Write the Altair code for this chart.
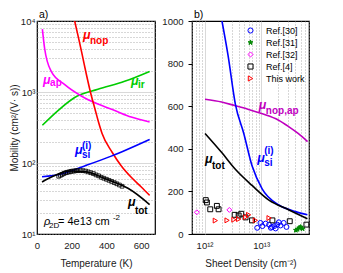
import altair as alt
import pandas as pd

FONT = "Liberation Sans"
RED, MAG, GRN, BLU, PUR, DGRN, BLK = "#ff0000", "#ff00ff", "#00cc00", "#0000ff", "#bf00bf", "#008800", "#000000"

# ---------------- panel a: mobility vs temperature ----------------
nop_T = [217, 239, 261, 285, 311, 334, 354, 375, 432, 486, 543, 601, 649]
nop_mu = [10000, 5840, 3300, 1750, 929, 577, 382, 261, 143, 91, 63, 46, 35]
ap_T = [31, 44, 82, 160, 255, 351, 448, 543, 649]
ap_mu = [7700, 4100, 1950, 1270, 880, 676, 547, 443, 379]
ir_T = [31, 121, 217, 351, 505, 649]
ir_mu = [340, 547, 836, 1090, 1413, 1950]
si_T = [29, 140, 275, 428, 649]
si_mu = [64, 70, 91, 125, 215]
tot_T = [29, 92, 188, 284, 380, 477, 524, 649]
tot_mu = [54, 65, 77, 75, 62, 50, 44, 26]
exp_T = [125, 135, 145, 155, 165, 175, 185, 195, 205, 215, 225, 235, 250, 265, 280,
         295, 310, 325, 340, 355, 370, 385, 400, 415, 430, 445, 460, 475, 490]
exp_mu = [65, 67, 69, 71, 73, 74, 75, 76, 77, 77, 78, 78, 78, 78, 77,
          75, 73, 71, 68, 66, 63, 61, 59, 57, 55, 53, 51, 49, 47]

a_xtick_vals = [0, 200, 400, 600]
a_ytick_vals = [10, 20, 30, 40, 50, 60, 70, 80, 90, 100, 200, 300, 400, 500, 600, 700, 800, 900,
                1000, 2000, 3000, 4000, 5000, 6000, 7000, 8000, 9000, 10000]
a_ytick_major = [10, 100, 1000, 10000]
a_ytick_labels = ["10¹", "10²", "10³", "10⁴"]

# curve labels: "μ" at (x, y); subscripts / superscripts share the x of their μ
a_lab_text = ["μ", "nop", "μ", "ap", "μ", "ir", "μ", "(i)", "si", "μ", "tot"]
a_lab_kind = ["mu", "sub", "mu", "sub", "mu", "sub", "mu", "sub", "sub", "mu", "sub"]
a_lab_x = [265, 265, 35, 35, 541, 541, 219, 219, 219, 524, 524]
a_lab_y = [5650, 4820, 1315, 1197, 1274, 1122, 134, 160, 117, 25.1, 19.4]
a_lab_color = [RED, RED, MAG, MAG, GRN, GRN, BLU, BLU, BLU, BLK, BLK]

rho_text = ["ρ", "2D", "= 4e13 cm", "-2"]
rho_kind = ["greek", "small", "normal", "small"]
rho_dx = [0, 5, 14, 69]
rho_x = [40, 40, 40, 40]
rho_y = [13.5, 12.1, 13.5, 15.8]

# ---------------- panel b: mobility vs sheet density ----------------
nopap_n = [1.02e12, 2e12, 3.5e12, 6e12, 1.05e13, 2e13, 3.1e13, 4.5e13, 6.6e13]
nopap_mu = [633, 620, 602, 585, 564, 535, 503, 472, 434]
sib_n = [2.03e12, 2.6e12, 3.5e12, 4.93e12, 6.9e12, 1.04e13, 2.06e13, 4.06e13, 6.56e13]
sib_mu = [1000, 839, 610, 472, 320, 212, 136, 105, 90]
totb_n = [1.02e12, 2.03e12, 3.5e12, 6.9e12, 1.37e13, 3.1e13, 6.56e13]
totb_mu = [472, 381, 304, 228, 159, 113, 72]

ref30_n = [8.5e12, 9.7e12, 1.05e13, 1.2e13, 1.38e13, 1.48e13, 1.55e13, 1.7e13, 1.8e13,
           1.92e13, 2.05e13, 2.2e13, 2.5e13, 2.8e13]
ref30_mu = [29, 52, 37, 49, 44, 29, 33, 37, 26, 44, 55, 40, 52, 33]
ref31_n = [4.1e13, 4.4e13, 4.7e13, 5.0e13, 5.4e13]
ref31_mu = [18, 22, 29, 33, 25]
ref32_n = [7.3e11, 2.74e12]
ref32_mu = [102, 113]
ref4_n = [1.05e12, 1.1e12, 1.26e12, 1.65e12, 1.77e12, 3.4e12, 4.0e12, 4.45e12, 5.3e12,
          6.9e12, 1.58e13, 3.2e13, 6.3e13]
ref4_mu = [159, 148, 116, 132, 116, 90, 87, 95, 78, 64, 64, 60, 44]
this_n = [1.55e12, 2.5e12, 3.3e12, 4.0e12, 5.3e12, 6.0e12, 7.9e12, 1.38e13]
this_mu = [63, 64, 67, 70, 79, 90, 64, 75]

src_names = ["Ref.[30]", "Ref.[31]", "Ref.[32]", "Ref.[4]", "This work"]
STAR = "M0,-1L0.24,-0.33L0.95,-0.31L0.39,0.12L0.59,0.81L0,0.4L-0.59,0.81L-0.39,0.12L-0.95,-0.31L-0.24,-0.33Z"
src_shapes = ["circle", STAR, "diamond", "square", "triangle-right"]
src_stroke = [BLU, DGRN, MAG, BLK, RED]
src_fill = ["transparent", DGRN, "transparent", "transparent", "transparent"]

b_xtick_vals = [6e11, 7e11, 8e11, 9e11, 1e12, 2e12, 3e12, 4e12, 5e12, 6e12, 7e12, 8e12, 9e12,
                1e13, 2e13, 3e13, 4e13, 5e13, 6e13, 7e13]
b_xtick_major = [1e12, 1e13]
b_xtick_labels = ["10¹²", "10¹³"]
b_ytick_vals = [0, 200, 400, 600, 800, 1000]

b_lab_text = ["μ", "nop,ap", "μ", "tot", "μ", "(i)", "si"]
b_lab_kind = ["mu", "sub", "mu", "sub", "mu", "sub", "sub"]
b_lab_x = [9.1e12, 9.1e12, 1.02e12, 1.02e12, 8.5e12, 8.5e12, 8.5e12]
b_lab_y = [587, 564, 335, 307, 339, 376, 318]
b_lab_color = [PUR, PUR, BLK, BLK, BLU, BLU, BLU]


def label_expr(vals, labels):
    return " : ".join(f"datum.value == {v} ? '{l}'" for v, l in zip(vals, labels)) + " : ''"


def grid_test(vals):
    return " || ".join(f"datum.value == {v}" for v in vals)


# ---- scales / axes ----
xa = alt.X("x:Q", scale=alt.Scale(domain=[0, 680], nice=False, zero=False),
           axis=alt.Axis(values=a_xtick_vals, grid=False, ticks=False, domain=False,
                         labelPadding=6, labelFlush=False, titlePadding=9,
                         title="Temperature (K)"))
ya = alt.Y("y:Q", scale=alt.Scale(type="log", domain=[10, 10000], nice=False),
           axis=alt.Axis(values=a_ytick_vals, labelExpr=label_expr(a_ytick_major, a_ytick_labels),
                         grid=True, ticks=False, domain=False, labelPadding=2, titlePadding=1,
                         labelOverlap=False, labelFlush=False,
                         gridDash={"condition": {"test": grid_test([100, 1000]), "value": []}, "value": [1, 2]},
                         gridColor={"condition": {"test": grid_test([100, 1000]), "value": "#cfcfcf"}, "value": "#9a9a9a"},
                         gridWidth=0.8,
                         title="Mobility (cm²/(V· s))"))

xb = alt.X("x:Q", scale=alt.Scale(type="log", domain=[6e11, 7e13], nice=False),
           axis=alt.Axis(values=b_xtick_vals, labelExpr=label_expr(b_xtick_major, b_xtick_labels),
                         grid=True, ticks=False, domain=False, labelPadding=6, labelFlush=False,
                         labelOverlap=False, titlePadding=9,
                         gridDash={"condition": {"test": grid_test(b_xtick_major), "value": []}, "value": [1, 2]},
                         gridColor={"condition": {"test": grid_test(b_xtick_major), "value": "#cfcfcf"}, "value": "#9a9a9a"},
                         gridWidth=0.8,
                         title="Sheet Density (cm⁻²)"))
yb = alt.Y("y:Q", scale=alt.Scale(domain=[0, 1000], nice=False),
           axis=alt.Axis(values=b_ytick_vals, format="d", grid=False, ticks=True, tickSize=4,
                         tickColor="black", domain=False, labelPadding=5, labelFlush=False,
                         title=None))


def curve(xs, ys, color, xe, ye):
    df = pd.DataFrame({"x": xs, "y": ys})
    return alt.Chart(df).mark_line(color=color, strokeWidth=1.6, clip=True,
                                   interpolate="monotone").encode(x=xe, y=ye)


def label_layers(texts, kinds, xs, ys, colors, xe, ye):
    df = pd.DataFrame({"t": texts, "k": kinds, "x": xs, "y": ys, "c": colors})
    base = alt.Chart(df).encode(x=xe, y=ye, text="t:N", color=alt.Color("c:N", scale=None))
    mu = base.transform_filter("datum.k == 'mu'").mark_text(
        align="left", baseline="alphabetic", font=FONT, fontSize=12.5,
        fontWeight="bold", fontStyle="italic")
    sub = base.transform_filter("datum.k == 'sub'").mark_text(
        align="left", baseline="alphabetic", font=FONT, fontSize=10, fontWeight="bold", dx=7)
    return [mu, sub]


# ---- panel a ----
exp_df = pd.DataFrame({"x": exp_T, "y": exp_mu})
squares = alt.Chart(exp_df).mark_point(shape="square", size=14, strokeWidth=0.8,
                                        color=BLK, opacity=1).encode(x=xa, y=ya)

rho_df = pd.DataFrame({"t": rho_text, "k": rho_kind, "x": rho_x, "y": rho_y, "dx": rho_dx})
rho_layers = []
for i in range(len(rho_text)):
    sub = rho_df.iloc[[i]]
    size = 8 if rho_kind[i] == "small" else 11
    style = "italic" if rho_kind[i] == "greek" else "normal"
    rho_layers.append(
        alt.Chart(sub).mark_text(align="left", baseline="alphabetic", font=FONT, fontSize=size,
                                 fontStyle=style, color=BLK, dx=rho_dx[i])
        .encode(x=xa, y=ya, text="t:N"))

panel_a = alt.layer(
    curve(ir_T, ir_mu, GRN, xa, ya),
    curve(ap_T, ap_mu, MAG, xa, ya),
    curve(nop_T, nop_mu, RED, xa, ya),
    curve(si_T, si_mu, BLU, xa, ya),
    curve(tot_T, tot_mu, BLK, xa, ya),
    squares,
    *label_layers(a_lab_text, a_lab_kind, a_lab_x, a_lab_y, a_lab_color, xa, ya),
    *rho_layers,
).properties(width=118, height=213,
             title=alt.Title("a)", anchor="start", frame="group", offset=-4, dx=2,
                             fontSize=10.5, fontWeight="normal", font=FONT))

# ---- panel b ----
rows = []
for name, ns, ms in zip(src_names, [ref30_n, ref31_n, ref32_n, ref4_n, this_n],
                        [ref30_mu, ref31_mu, ref32_mu, ref4_mu, this_mu]):
    for n, m in zip(ns, ms):
        rows.append({"x": n, "y": m, "src": name})
scatter_df = pd.DataFrame(rows)

leg = alt.Legend(orient="none", legendX=54, legendY=5, title=None, labelFont=FONT,
                 labelFontSize=9, labelColor="black", symbolSize=26, symbolStrokeWidth=1,
                 labelOffset=11, rowPadding=1, padding=0, labelLimit=120)
scatter = alt.Chart(scatter_df).mark_point(strokeWidth=1, opacity=1, size=24).encode(
    x=xb, y=yb,
    shape=alt.Shape("src:N", scale=alt.Scale(domain=src_names, range=src_shapes), legend=leg),
    stroke=alt.Stroke("src:N", scale=alt.Scale(domain=src_names, range=src_stroke), legend=leg),
    fill=alt.Fill("src:N", scale=alt.Scale(domain=src_names, range=src_fill), legend=leg),
)

panel_b = alt.layer(
    curve(nopap_n, nopap_mu, PUR, xb, yb),
    curve(sib_n, sib_mu, BLU, xb, yb),
    curve(totb_n, totb_mu, BLK, xb, yb),
    scatter,
    *label_layers(b_lab_text, b_lab_kind, b_lab_x, b_lab_y, b_lab_color, xb, yb),
).properties(width=117, height=213,
             title=alt.Title("b)", anchor="start", frame="group", offset=-4, dx=2,
                             fontSize=10.5, fontWeight="normal", font=FONT))

chart = alt.hconcat(panel_a, panel_b, spacing=5).resolve_scale(
    shape="independent", stroke="independent", fill="independent", color="independent"
).resolve_legend(
    shape="independent", stroke="independent", fill="independent", color="independent"
).properties(
    padding={"left": 0, "top": 0, "right": 0, "bottom": 0}
).configure_view(
    stroke="black", strokeWidth=1.2
).configure_axis(
    labelFont=FONT, titleFont=FONT, labelFontSize=9.5, titleFontSize=10,
    labelColor="#1a1a1a", titleColor="#1a1a1a", titleFontWeight="normal"
)

chart.save("out.html", embed_options={"renderer": "svg", "actions": False})
